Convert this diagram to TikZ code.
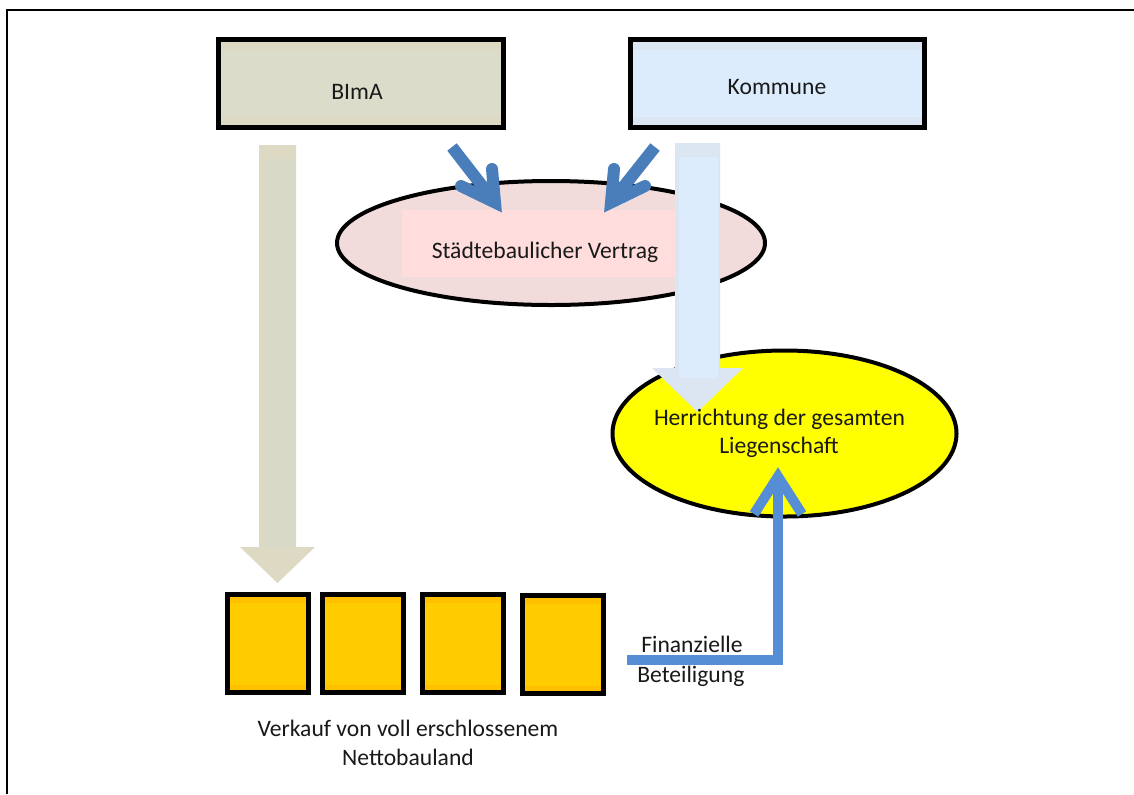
\documentclass[tikz,border=0pt]{standalone}
\usepackage{fontspec}
\setmainfont{Carlito}
\usetikzlibrary{shapes.geometric,calc}
\definecolor{bimaS}{RGB}{221,217,195}
\definecolor{bimaM}{RGB}{220,220,202}
\definecolor{komS}{RGB}{220,230,242}
\definecolor{komM}{RGB}{220,236,252}
\definecolor{vertragF}{RGB}{242,220,219}
\definecolor{vertragI}{RGB}{255,221,221}
\definecolor{blueA}{RGB}{74,126,187}
\definecolor{blueB}{RGB}{85,142,213}
\definecolor{goldS}{RGB}{255,192,0}
\definecolor{goldM}{RGB}{255,204,0}
\definecolor{beigeS}{RGB}{221,217,195}
\definecolor{beigeM}{RGB}{217,217,199}
\definecolor{yel}{RGB}{255,255,0}
\begin{document}
\begin{tikzpicture}[x=0.75pt,y=-0.75pt,
  font=\fontsize{17.7}{21.5}\selectfont,
  txt/.style={inner sep=0pt, anchor=base, text=black!90},
  topbox/.style={draw=black, line width=3.75pt, minimum height=66pt, inner sep=0pt, fill=#1S,
    path picture={\fill[#1M] ([shift={(2pt,8pt)}]path picture bounding box.south west) rectangle ([shift={(-2pt,-8pt)}]path picture bounding box.north east);}},
  sq/.style={draw=black, line width=3.75pt, minimum width=60.75pt, minimum height=73.5pt, inner sep=0pt, fill=goldS,
    path picture={\fill[goldM] ([shift={(0pt,6pt)}]path picture bounding box.south west) rectangle ([shift={(0pt,-6pt)}]path picture bounding box.north east);}},
  oval/.style={ellipse, draw=black, line width=3pt, inner sep=0pt},
  barb/.style={draw=blueA, line width=9pt, line cap=round, line join=miter},
  shaft/.style={draw=blueA, line width=9pt, line cap=butt},
]
\useasboundingbox (0,0) rectangle (1134,794);
\fill[white] (0,0) rectangle (1134,794);
% frame
\coordinate (frBL) at (7,794);
\coordinate (frTL) at (7,10);
\coordinate (frTR) at (1134,10);
\draw[line width=2.2pt] (frBL) -- (frTL) -- (frTR);

% top boxes
\node[topbox=bima, minimum width=213.75pt] (bima) at (361,83.5) {};
\node[txt] (bimaT) at (357,99) {BImA};
\node[topbox=kom, minimum width=220.5pt] (kom) at (777.5,83.5) {};
\node[txt] (komT) at (777,94) {Kommune};

% contract ellipse
\node[oval, fill=vertragF, minimum width=321pt, minimum height=93pt] (vertrag) at (551,243) {};
\node[fill=vertragI, inner sep=0pt, minimum width=204.75pt, minimum height=50pt] (vertragI) at (538.5,243.5) {};
\node[txt] (vertragT) at (545,258) {Städtebaulicher Vertrag};

% yellow ellipse
\node[oval, fill=yel, minimum width=258pt, minimum height=124.5pt] (herr) at (784.5,433.5) {};

% light blue block arrow (Kommune -> Herrichtung)
\coordinate (kA) at (697.5,143);
\coordinate (kB) at (697.5,412);
\fill[komS] ($(kA)+(-22.5,0)$) -- ($(kA)+(22.5,0)$) -- ($(kB)+(22.5,-44)$) -- ($(kB)+(45.5,-44)$)
   -- (kB) -- ($(kB)+(-45.5,-44)$) -- ($(kB)+(-22.5,-44)$) -- cycle;
\fill[komM] ($(kA)+(-18.5,14)$) rectangle ($(kB)+(20.5,-34)$);

\node[txt] (herrT1) at (779.5,425) {Herrichtung der gesamten};
\node[txt] (herrT2) at (779,453) {Liegenschaft};

% beige block arrow (BImA -> squares)
\coordinate (bA) at (277.5,145);
\coordinate (bB) at (277.5,583);
\fill[beigeS] ($(bA)+(-18.5,0)$) -- ($(bA)+(18.5,0)$) -- ($(bB)+(18.5,-36)$) -- ($(bB)+(37.5,-36)$)
   -- (bB) -- ($(bB)+(-37.5,-36)$) -- ($(bB)+(-18.5,-36)$) -- cycle;
\fill[beigeM] ($(bA)+(-14.5,13)$) rectangle ($(bB)+(18.5,-35)$);

% blue arrows to contract
\coordinate (lS) at (452,147);
\coordinate (lV) at (495,202.5);
\coordinate (lA1) at (492,169);
\coordinate (lA2) at (461,186);
\draw[shaft] (lS) -- (lV);
\draw[barb] (lA1) -- (lV) -- (lA2);
\coordinate (rS) at (655,147);
\coordinate (rV) at (611,202.5);
\coordinate (rA1) at (614,169);
\coordinate (rA2) at (645,186);
\draw[shaft] (rS) -- (rV);
\draw[barb] (rA1) -- (rV) -- (rA2);

% squares
\node[sq] (sq1) at (268,643.5) {};
\node[sq] (sq2) at (363,643.5) {};
\node[sq] (sq3) at (462.5,643.5) {};
\node[sq] (sq4) at (562.5,644.5) {};

\node[txt] (verkT1) at (408,736) {Verkauf von voll erschlossenem};
\node[txt] (verkT2) at (408,765) {Nettobauland};

% Finanzielle Beteiligung
\node[txt, anchor=base west] (finT1) at (641,652) {Finanzielle};
\node[txt, anchor=base west] (finT2) at (637,682) {Beteiligung};
\coordinate (fS) at (627,660);
\coordinate (fC) at (778,660);
\coordinate (fV) at (778,476.5);
\coordinate (fA1) at (754,514);
\coordinate (fA2) at (802,514);
\draw[draw=blueB, line width=7.5pt, line cap=butt, line join=miter] (fS) -- (fC) -- (fV);
\draw[draw=blueB, line width=7.5pt, line cap=butt, line join=miter] (fA1) -- (fV) -- (fA2);
\end{tikzpicture}
\end{document}
